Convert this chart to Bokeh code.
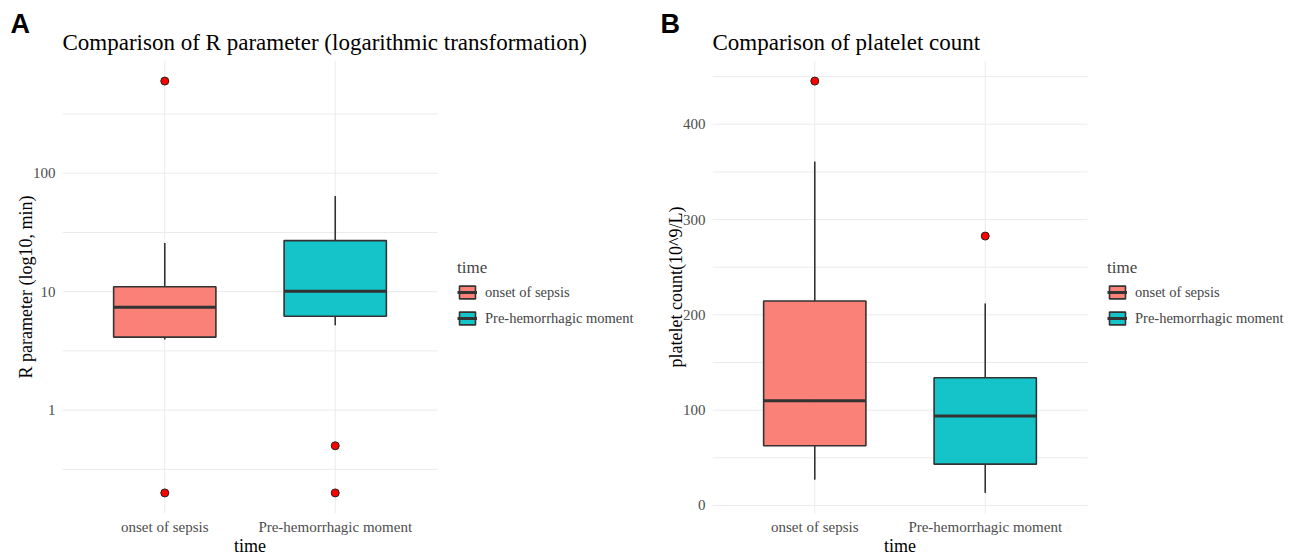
import numpy as np
from bokeh.plotting import figure
from bokeh.models import Range1d, FixedTicker, Legend, LegendItem, Title, LinearAxis
from bokeh.layouts import row
from bokeh.embed import file_html
from bokeh.resources import INLINE

# ---------------- data ----------------
categories = ["onset of sepsis", "Pre-hemorrhagic moment"]
colors = ["#F8766D", "#00BFC4"]

# Panel A: R parameter (log scale)
r_whisker_low = [3.95, 5.2]
r_q1 = [4.13, 6.2]
r_median = [7.4, 10.1]
r_q3 = [11.0, 27.0]
r_whisker_high = [25.8, 64.4]
r_outlier_cat = ["onset of sepsis", "onset of sepsis", "Pre-hemorrhagic moment", "Pre-hemorrhagic moment"]
r_outlier_val = [600, 0.2, 0.5, 0.2]
r_major_ticks = [1, 10, 100]
r_minor_ticks = [10 ** -0.5, 10 ** 0.5, 10 ** 1.5, 10 ** 2.5]

# Panel B: platelet count
p_whisker_low = [27.1, 13.2]
p_q1 = [62.7, 43.4]
p_median = [110, 94]
p_q3 = [214.5, 134]
p_whisker_high = [360.8, 212]
p_outlier_cat = ["onset of sepsis", "Pre-hemorrhagic moment"]
p_outlier_val = [445.3, 282.7]
p_major_ticks = [0, 100, 200, 300, 400]
p_minor_ticks = [50, 150, 250, 350, 450]

FONT = "Liberation Serif"
GRID = "#EBEBEB"
DARK = "#333333"
BOX_W = 0.6
PLOT_W = 375          # width of the plotting area (px)
LEFT = 62             # left border (px)
TOP = 60              # top border (px)
FIG_H = 558
FRAME_H_EST = 453     # frame height expected from the borders


def make_panel(letter, title, ylabel, log, wlo, q1, med, q3, whi, out_cat, out_val,
               major, minor, fig_w):
    n = len(categories)
    xs = [i + 1 for i in range(n)]
    pos = {c: i + 1 for i, c in enumerate(categories)}
    allv = list(wlo) + list(whi) + list(out_val)
    if log:
        lo, hi = np.log10(min(allv)), np.log10(max(allv))
        pad = 0.05 * (hi - lo)
        yr = Range1d(10 ** (lo - pad), 10 ** (hi + pad))
    else:
        lo, hi = min(allv), max(allv)
        pad = 0.05 * (hi - lo)
        yr = Range1d(lo - pad, hi + pad)
    x0, x1 = 0.4, n + 0.6
    frame_w = fig_w - LEFT
    # extend the range so that the legend area sits to the right of the plot area
    xr = Range1d(x0, x0 + (x1 - x0) * frame_w / PLOT_W)

    p = figure(width=fig_w, height=FIG_H, x_range=xr, y_range=yr,
               y_axis_type="log" if log else "linear", output_backend="svg", toolbar_location=None,
               min_border_left=LEFT, min_border_right=0, min_border_top=TOP, min_border_bottom=0)
    p.outline_line_color = None
    p.background_fill_color = "white"

    # outer title: panel letter; inner title: chart title
    p.title.text = letter
    p.title.text_font = "Liberation Sans"
    p.title.text_font_size = "27px"
    p.title.text_font_style = "bold"
    p.title.text_color = "black"
    p.title.align = "left"
    p.title.offset = -52
    p.title.standoff = -35
    p.add_layout(Title(text=title, text_font=FONT, text_font_size="23px",
                       text_font_style="normal", text_color="black", align="left",
                       standoff=12), "above")

    p.xaxis.ticker = FixedTicker(ticks=xs, minor_ticks=[])
    p.xaxis.major_label_overrides = {x: c for x, c in zip(xs, categories)}
    p.yaxis.ticker = FixedTicker(ticks=major, minor_ticks=minor)
    p.yaxis.major_label_overrides = {t: str(t) for t in major}
    p.yaxis.axis_label = ylabel
    for ax in p.axis:
        ax.axis_line_color = None
        ax.major_tick_line_color = None
        ax.minor_tick_line_color = None
        ax.major_tick_out = 0
        ax.major_tick_in = 0
        ax.minor_tick_out = 0
        ax.minor_tick_in = 0
        ax.major_label_text_font = FONT
        ax.major_label_text_font_size = "15px"
        ax.major_label_text_color = "#4D4D4D"
        ax.axis_label_text_font = FONT
        ax.axis_label_text_font_size = "18px"
        ax.axis_label_text_font_style = "normal"
        ax.axis_label_text_color = "black"
    p.xaxis.major_label_standoff = 5
    p.yaxis.major_label_standoff = 7
    p.yaxis.axis_label_standoff = -6

    # grid restricted to the plotting area
    p.xgrid.visible = False
    p.ygrid.visible = False
    p.segment(x0=xs, y0=[yr.start] * n, x1=xs, y1=[yr.end] * n, line_color=GRID, line_width=1)
    gy = list(major) + list(minor)
    p.segment(x0=[x0] * len(gy), y0=gy, x1=[x1] * len(gy), y1=gy, line_color=GRID, line_width=1)

    items = []
    for i, c in enumerate(categories):
        x = xs[i]
        p.segment(x0=[x, x], y0=[q3[i], q1[i]], x1=[x, x], y1=[whi[i], wlo[i]],
                  line_color=DARK, line_width=1.6)
        box = p.vbar(x=[x], width=BOX_W, bottom=[q1[i]], top=[q3[i]], fill_color=colors[i],
                     fill_alpha=0.92, line_color=DARK, line_width=1.6)
        medr = p.segment(x0=[x - BOX_W / 2], y0=[med[i]], x1=[x + BOX_W / 2], y1=[med[i]],
                         line_color=DARK, line_width=3)
        items.append(LegendItem(label=c, renderers=[box, medr]))

    p.scatter(x=[pos[c] for c in out_cat], y=out_val, size=8, marker="circle",
              fill_color="#FF0000", line_color="#222222", line_width=1)

    legend = Legend(items=items, title="time", location=(PLOT_W + 20, FRAME_H_EST / 2 - 40))
    legend.title_text_font = FONT
    legend.title_text_font_size = "17px"
    legend.title_text_font_style = "normal"
    legend.title_standoff = 6
    legend.label_text_font = FONT
    legend.label_text_font_size = "14.5px"
    legend.glyph_width = 20
    legend.glyph_height = 16
    legend.spacing = 9
    legend.padding = 8
    legend.margin = 0
    legend.label_standoff = 8
    legend.border_line_color = None
    legend.background_fill_alpha = 0
    p.add_layout(legend)

    # x-axis title "time", centred under the plotting area
    mid = (x0 + x1) / 2
    tax = LinearAxis(ticker=FixedTicker(ticks=[mid], minor_ticks=[]),
                     major_label_overrides={mid: "time"},
                     axis_line_color=None, major_tick_line_color=None,
                     minor_tick_line_color=None, major_tick_in=0, major_tick_out=0,
                     minor_tick_in=0, minor_tick_out=0, major_label_text_font=FONT,
                     major_label_text_font_size="18px", major_label_text_color="black",
                     major_label_standoff=-2)
    p.add_layout(tax, "below")
    return p


pa = make_panel("A", "Comparison of R parameter (logarithmic transformation)",
                "R parameter (log10, min)", True,
                r_whisker_low, r_q1, r_median, r_q3, r_whisker_high,
                r_outlier_cat, r_outlier_val, r_major_ticks, r_minor_ticks, 650)
pb = make_panel("B", "Comparison of platelet count", "platelet count(10^9/L)", False,
                p_whisker_low, p_q1, p_median, p_q3, p_whisker_high,
                p_outlier_cat, p_outlier_val, p_major_ticks, p_minor_ticks, 645)

layout = row(pa, pb)
open("out.html", "w").write(file_html(layout, INLINE))
